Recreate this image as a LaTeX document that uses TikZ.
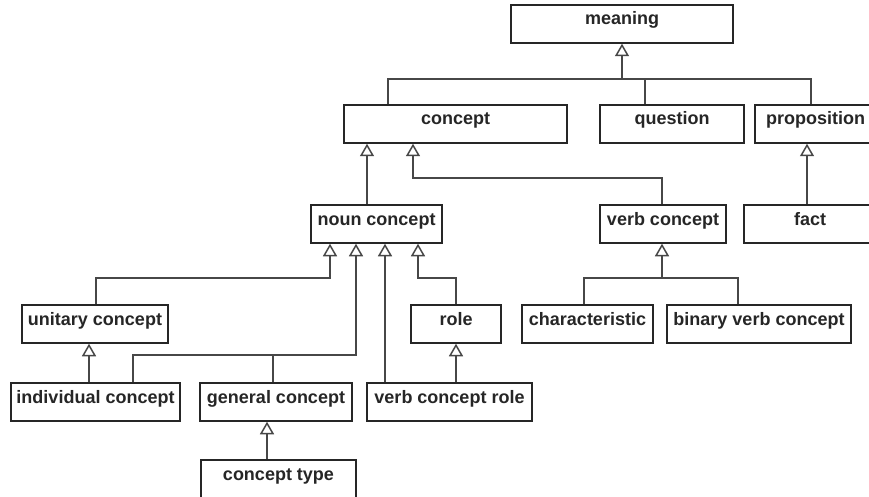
\documentclass[tikz,border=0pt]{standalone}
\usepackage{fontspec}
\setmainfont{Liberation Sans}
\usetikzlibrary{arrows.meta}

\tikzset{
  classbox/.style={draw=black!85, line width=1.5pt, fill=white, rectangle,
    minimum height=38pt, inner sep=0pt, text height=12pt, text depth=10pt,
    font=\bfseries\fontsize{18}{20}\selectfont, text=black!85},
  link/.style={draw=black!72, line width=1.5pt},
  gen/.style={link, -{Triangle[open, width=14pt, length=12.5pt, fill=white]}}
}

\begin{document}
\begin{tikzpicture}[x=1pt, y=-1pt]
  \useasboundingbox (0,0) rectangle (869,497);
  \fill[white] (0,0) rectangle (869,497);
  \clip (0,0) rectangle (869,497);

  % classes
  \node[classbox, minimum width=222pt] (meaning)     at (622,24)    {meaning};
  \node[classbox, minimum width=223pt] (concept)     at (455.5,124) {concept};
  \node[classbox, minimum width=144pt] (question)    at (672,124)   {question};
  \node[classbox, minimum width=121pt] (proposition) at (815.5,124) {proposition};
  \node[classbox, minimum width=131pt] (noun)        at (376.5,224) {noun concept};
  \node[classbox, minimum width=126pt] (verb)        at (663,224)   {verb concept};
  \node[classbox, minimum width=132pt] (fact)        at (810,224)   {fact};
  \node[classbox, minimum width=146pt] (unitary)     at (95,324)    {unitary concept};
  \node[classbox, minimum width=90pt]  (role)        at (456,324)   {role};
  \node[classbox, minimum width=131pt] (charac)      at (587.5,324) {characteristic};
  \node[classbox, minimum width=184pt] (binary)      at (759,324)   {binary verb concept};
  \node[classbox, minimum width=169pt] (individual)  at (95.5,402)  {individual concept};
  \node[classbox, minimum width=152pt] (general)     at (276,402)   {general concept};
  \node[classbox, minimum width=165pt] (vcrole)      at (449.5,402) {verb concept role};
  \node[classbox, minimum width=155pt] (ctype)       at (278.5,479) {concept type};

  % junction points of shared generalization lines
  \coordinate (mj) at (622,79);
  \coordinate (vj) at (413,178);
  \coordinate (uj) at (330,278);
  \coordinate (gj) at (356,355);
  \coordinate (rj) at (418,278);
  \coordinate (cj) at (662,278);

  % meaning and its kinds
  \draw[link] (concept.north -| 388,0) |- (mj) -| (proposition.north -| 811,0);
  \draw[link] (question.north -| 645,0) |- (mj);
  \draw[gen] (mj) -- (meaning.south);

  % proposition
  \draw[gen] (fact.north -| 807,0) -- (proposition.south -| 807,0);

  % concept
  \draw[gen] (noun.north -| 367,0) -- (concept.south -| 367,0);
  \draw[gen] (verb.north -| 662,0) |- (vj) -- (concept.south -| vj);

  % noun concept
  \draw[gen] (unitary.north -| 96,0) |- (uj) -- (noun.south -| uj);
  \draw[link] (general.north -| 273,0) |- (gj);
  \draw[gen] (individual.north -| 133,0) |- (gj) -- (noun.south -| gj);
  \draw[gen] (vcrole.north -| 385,0) -- (noun.south -| 385,0);
  \draw[gen] (role.north -| 456,0) |- (rj) -- (noun.south -| rj);

  % lower levels
  \draw[gen] (individual.north -| 89,0) -- (unitary.south -| 89,0);
  \draw[gen] (vcrole.north -| 456,0) -- (role.south -| 456,0);
  \draw[gen] (ctype.north -| 267,0) -- (general.south -| 267,0);

  % verb concept
  \draw[link] (charac.north -| 584,0) |- (cj) -| (binary.north -| 738,0);
  \draw[gen] (cj) -- (verb.south -| cj);
\end{tikzpicture}
\end{document}
